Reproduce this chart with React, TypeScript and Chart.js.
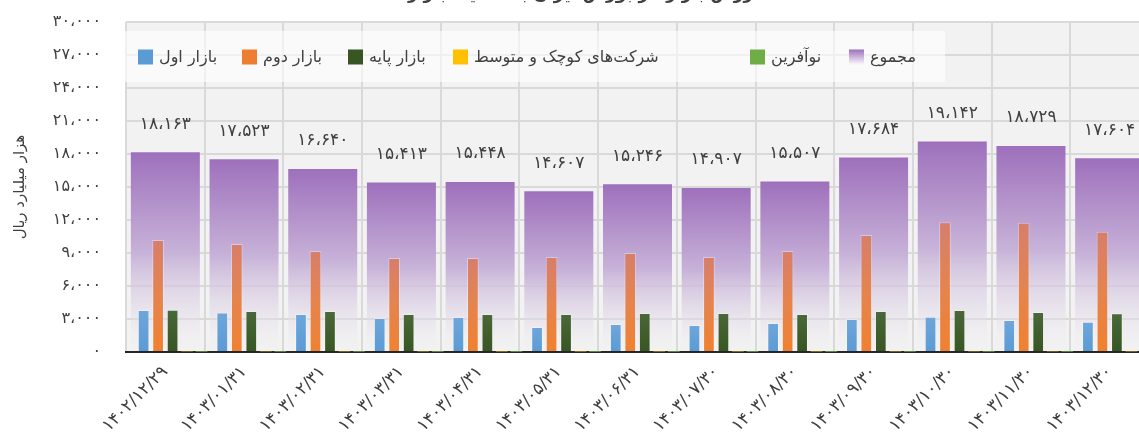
import React, { useEffect, useRef } from 'react';
import { Chart, registerables } from 'chart.js';

Chart.register(...registerables);

const FONT = '"DejaVu Sans", "Noto Sans", sans-serif';
const TEXT = '#404040';

const chartTitle = 'ارزش بازار فرابورس ایران به تفکیک بازارها';
const yAxisTitle = 'هزار میلیارد ریال';

const categories = [
  '۱۴۰۲/۱۲/۲۹', '۱۴۰۳/۰۱/۳۱', '۱۴۰۳/۰۲/۳۱', '۱۴۰۳/۰۳/۳۱', '۱۴۰۳/۰۴/۳۱',
  '۱۴۰۳/۰۵/۳۱', '۱۴۰۳/۰۶/۳۱', '۱۴۰۳/۰۷/۳۰', '۱۴۰۳/۰۸/۳۰', '۱۴۰۳/۰۹/۳۰',
  '۱۴۰۳/۱۰/۳۰', '۱۴۰۳/۱۱/۳۰', '۱۴۰۳/۱۲/۳۰',
];

const seriesLabels = ['بازار اول', 'بازار دوم', 'بازار پایه', 'شرکت‌های کوچک و متوسط', 'نوآفرین', 'مجموع'];

const firstMarket = [3820, 3600, 3450, 3090, 3180, 2270, 2550, 2450, 2640, 3000, 3200, 2900, 2750];
const secondMarket = [10180, 9820, 9180, 8550, 8550, 8640, 9000, 8640, 9180, 10640, 11800, 11750, 10940];
const baseMarket = [3850, 3720, 3720, 3450, 3450, 3450, 3550, 3550, 3450, 3730, 3820, 3640, 3520];
const smeMarket = [60, 60, 55, 55, 50, 50, 50, 50, 50, 55, 60, 60, 55];
const innovMarket = [30, 30, 30, 25, 25, 25, 25, 25, 25, 30, 30, 30, 30];
const totalValues = [18163, 17523, 16640, 15413, 15448, 14607, 15246, 14907, 15507, 17684, 19142, 18729, 17604];

const yMin = 0;
const yMax = 30000;
const yStep = 3000;

const faDigits = '۰۱۲۳۴۵۶۷۸۹';
function toFa(s: string): string {
  return s.replace(/[0-9]/g, (d) => faDigits[+d]).replace(/,/g, '،');
}
function fmt(n: number): string {
  return toFa(Math.round(n).toLocaleString('en-US'));
}

const W = 1160;
const H = 455;
const SHIFT = 16;

type Stop = [number, string];

const vertGrad = (stops: Stop[]) => (context: any) => {
  const chart = context.chart;
  const { ctx, chartArea, scales } = chart;
  if (!chartArea || !scales || !scales.y) return stops[0][1];
  const v = context.raw;
  if (v == null) return 'rgba(0,0,0,0)';
  const yTop = scales.y.getPixelForValue(v);
  const yBot = scales.y.getPixelForValue(0);
  if (!isFinite(yTop) || !isFinite(yBot) || yBot - yTop < 1) return stops[0][1];
  const g = ctx.createLinearGradient(0, yTop, 0, yBot);
  stops.forEach(([o, c]) => g.addColorStop(o, c));
  return g;
};

const blueStops: Stop[] = [[0, '#6ea6da'], [1, '#5b9bd5']];
const orangeStops: Stop[] = [[0, '#d77e6a'], [0.5, '#e5844e'], [1, '#f0812f']];
const greenStops: Stop[] = [[0, '#4a6838'], [1, '#375623']];
const purpleStops: Stop[] = [[0, '#9e70bc'], [0.5, '#c7b2d8'], [1, 'rgba(242,242,242,0.2)']];

const swatches = ['#5b9bd5', '#ed7d31', '#375623', '#ffc000', '#70ad47', 'purple'];
const legendBoxX = [138, 242, 348, 453, 750, 849];

const plotBg = {
  id: 'plotBg',
  beforeDraw(chart: any) {
    const { ctx, chartArea } = chart;
    if (!chartArea) return;
    ctx.save();
    ctx.fillStyle = '#f2f2f2';
    ctx.fillRect(chartArea.left, chartArea.top, chartArea.right - chartArea.left, chartArea.bottom - chartArea.top);
    ctx.restore();
  },
};

const innerLegend = {
  id: 'innerLegend',
  afterDatasetsDraw(chart: any) {
    const { ctx } = chart;
    ctx.save();
    const top = 31 + SHIFT;
    const h = 51;
    ctx.fillStyle = 'rgba(255,255,255,0.6)';
    ctx.fillRect(115, top, 830, h);
    const cy = top + h / 2;
    ctx.font = `16px ${FONT}`;
    ctx.textBaseline = 'middle';
    ctx.textAlign = 'left';
    seriesLabels.forEach((label, i) => {
      const x = legendBoxX[i];
      const c = swatches[i];
      if (c === 'purple') {
        const g = ctx.createLinearGradient(0, cy - 7, 0, cy + 7);
        g.addColorStop(0, '#9e70bc');
        g.addColorStop(1, '#f4f0f7');
        ctx.fillStyle = g;
      } else {
        ctx.fillStyle = c;
      }
      ctx.fillRect(x, cy - 7, 15, 15);
      ctx.fillStyle = TEXT;
      ctx.fillText(label, x + 21, cy + 1);
    });
    ctx.restore();
  },
};

const totalLabels = {
  id: 'totalLabels',
  afterDatasetsDraw(chart: any) {
    const { ctx } = chart;
    const idx = chart.data.datasets.findIndex((d: any) => d.label === seriesLabels[5]);
    if (idx < 0) return;
    const meta = chart.getDatasetMeta(idx);
    ctx.save();
    ctx.font = `17px ${FONT}`;
    ctx.fillStyle = TEXT;
    ctx.textAlign = 'center';
    ctx.textBaseline = 'middle';
    meta.data.forEach((el: any, i: number) => {
      ctx.fillText(fmt(totalValues[i]), el.x, el.y - 28);
    });
    ctx.restore();
  },
};

export default function App() {
  const ref = useRef<HTMLCanvasElement | null>(null);

  useEffect(() => {
    const canvas = ref.current;
    if (!canvas) return;
    const empty = categories.map(() => null);
    const chart = new Chart(canvas, {
      type: 'bar',
      data: {
        labels: categories,
        datasets: [
          { label: '_slot', data: empty as any, order: 0, backgroundColor: 'rgba(0,0,0,0)' },
          { label: seriesLabels[0], data: firstMarket, order: 1, backgroundColor: vertGrad(blueStops), borderColor: 'rgba(255,255,255,0.35)', borderWidth: 1 },
          { label: seriesLabels[1], data: secondMarket, order: 2, backgroundColor: vertGrad(orangeStops), borderColor: 'rgba(255,255,255,0.35)', borderWidth: 1 },
          { label: seriesLabels[2], data: baseMarket, order: 3, backgroundColor: vertGrad(greenStops), borderColor: 'rgba(255,255,255,0.3)', borderWidth: 1 },
          { label: seriesLabels[3], data: smeMarket, order: 4, backgroundColor: '#ffc000' },
          { label: seriesLabels[4], data: innovMarket, order: 5, backgroundColor: '#70ad47' },
          { label: seriesLabels[5], data: totalValues, order: 10, grouped: false, backgroundColor: vertGrad(purpleStops), barPercentage: 0.877, categoryPercentage: 1 },
        ],
      },
      options: {
        responsive: false,
        animation: false,
        devicePixelRatio: 1,
        layout: { padding: { left: 0, right: W - 1149, top: 0, bottom: 0 } },
        datasets: { bar: { categoryPercentage: 1.105, barPercentage: 0.807 } } as any,
        plugins: {
          legend: { display: false },
          tooltip: { enabled: false },
          title: {
            display: true,
            text: chartTitle,
            color: TEXT,
            font: { family: FONT, size: 17, weight: 'bold', lineHeight: 1.2 },
            padding: { top: 0, bottom: 17.6 },
          },
        },
        scales: {
          x: {
            type: 'category',
            offset: true,
            grid: { color: '#d9d9d9', lineWidth: 2, offset: true, drawTicks: false },
            border: { color: '#262626', width: 2 },
            ticks: {
              color: TEXT,
              font: { family: FONT, size: 17 },
              minRotation: 45,
              maxRotation: 45,
              padding: 10,
              autoSkip: false,
            },
            afterFit: (s: any) => { s.height = H - (352 + SHIFT); },
          },
          y: {
            min: yMin,
            max: yMax,
            grid: { color: '#d9d9d9', lineWidth: 2, drawTicks: false },
            border: { display: false },
            ticks: {
              stepSize: yStep,
              color: TEXT,
              font: { family: FONT, size: 16 },
              padding: 25,
              callback: (v: any) => fmt(Number(v)),
            },
            title: {
              display: true,
              text: yAxisTitle,
              color: TEXT,
              font: { family: FONT, size: 15 },
              padding: { top: 11, bottom: 0 },
            },
            afterFit: (s: any) => { s.width = 126; },
          },
        },
      },
      plugins: [plotBg, totalLabels, innerLegend],
    } as any);
    return () => chart.destroy();
  }, []);

  return (
    <div style={{ position: 'fixed', left: 0, top: 0, width: 1139, height: 439, overflow: 'hidden', background: '#fff' }}>
      <canvas
        ref={ref}
        width={W}
        height={H}
        style={{ position: 'absolute', left: 0, top: -SHIFT, width: W, height: H }}
      />
    </div>
  );
}
